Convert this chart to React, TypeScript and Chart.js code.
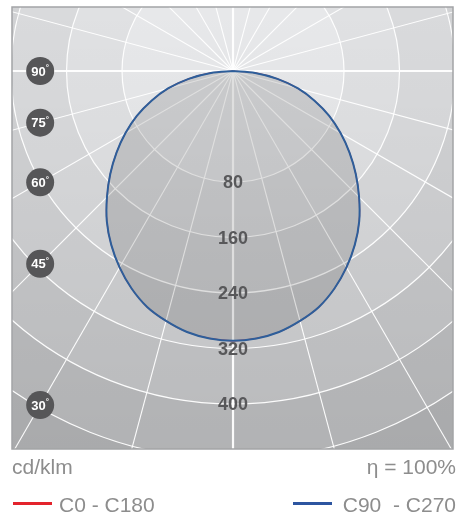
import { useEffect, useRef } from 'react';
import { Chart, registerables } from 'chart.js';

Chart.register(...registerables);

// gamma angles (degrees from nadir) and intensities (display units)
const gammaDeg = [0, 5, 10, 15, 20, 25, 30, 35, 40, 45, 50, 55, 60, 65, 70, 75, 80, 85, 90];
const c90Intensity = [389, 387, 382, 373, 362, 346, 327, 306, 283, 257, 231, 205, 179, 153, 125, 97, 65, 32, 0];
const c0Intensity = [389, 387, 382, 373, 362, 346, 327, 306, 283, 257, 231, 205, 179, 153, 125, 97, 65, 32, 0];

// grid rings (display units) and their tick labels (cd/klm)
const ringRadii = [160, 240, 320, 400, 480, 560];
const ringLabels = ['80', '160', '240', '320', '400'];
const bandColors = ['#e7e8ea', '#e0e1e3', '#d9dadc', '#d1d2d4', '#c8c9cb', '#bfc0c2', '#b6b7b9'];

// spokes every 15 degrees
const spokeAngles = [0, 15, 30, 45, 60, 75, 90, 105, 120, 135, 150, 165, 180, 195, 210, 225, 240, 255, 270, 285, 300, 315, 330, 345];
const angleLabelDeg = [90, 75, 60, 45, 30];
const angleLabels = ['90', '75', '60', '45', '30'];
const angleLabelX = -278;

const X_MIN = -318.6;
const X_MAX = 317.1;
const Y_MIN = -544.9;
const Y_MAX = 92.25;

function toCurve(values: number[]) {
  const pts: { x: number; y: number }[] = [];
  for (let i = gammaDeg.length - 1; i >= 0; i--) {
    const t = (gammaDeg[i] * Math.PI) / 180;
    pts.push({ x: -values[i] * Math.sin(t), y: -values[i] * Math.cos(t) });
  }
  for (let i = 1; i < gammaDeg.length; i++) {
    const t = (gammaDeg[i] * Math.PI) / 180;
    pts.push({ x: values[i] * Math.sin(t), y: -values[i] * Math.cos(t) });
  }
  return pts;
}

const polarGrid = {
  id: 'polarGrid',
  beforeDatasetsDraw(chart: any) {
    const { ctx, chartArea: a, scales } = chart;
    const xs = scales.x;
    const ys = scales.y;
    const cx = xs.getPixelForValue(0);
    const cy = ys.getPixelForValue(0);
    const k = xs.getPixelForValue(1) - cx;
    ctx.save();
    ctx.beginPath();
    ctx.rect(a.left, a.top, a.right - a.left, a.bottom - a.top);
    ctx.clip();
    ctx.fillStyle = bandColors[bandColors.length - 1];
    ctx.fillRect(a.left, a.top, a.right - a.left, a.bottom - a.top);
    for (let i = ringRadii.length - 1; i >= 0; i--) {
      ctx.beginPath();
      ctx.arc(cx, cy, ringRadii[i] * k, 0, Math.PI * 2);
      ctx.fillStyle = bandColors[i];
      ctx.fill();
    }
    const g = ctx.createLinearGradient(0, a.top, 0, a.bottom);
    g.addColorStop(0, 'rgba(0,0,0,0)');
    g.addColorStop(1, 'rgba(0,0,0,0.07)');
    ctx.fillStyle = g;
    ctx.fillRect(a.left, a.top, a.right - a.left, a.bottom - a.top);

    ctx.strokeStyle = 'rgba(255,255,255,0.95)';
    ctx.lineWidth = 1.2;
    ringRadii.forEach((r) => {
      ctx.beginPath();
      ctx.arc(cx, cy, r * k, 0, Math.PI * 2);
      ctx.stroke();
    });
    const L = 2000;
    spokeAngles.forEach((deg) => {
      const t = (deg * Math.PI) / 180;
      ctx.lineWidth = deg % 90 === 0 ? 2.2 : 1.1;
      ctx.beginPath();
      ctx.moveTo(cx, cy);
      ctx.lineTo(cx + L * Math.sin(t), cy + L * Math.cos(t));
      ctx.stroke();
    });

    // fill inside the C90 curve, using the library's own line path
    const meta = chart.getDatasetMeta(0);
    const line = meta.dataset;
    if (line) {
      if (typeof line.updateControlPoints === 'function') line.updateControlPoints(a, 'x');
      ctx.beginPath();
      line.path(ctx);
      ctx.closePath();
      ctx.fillStyle = 'rgba(0,0,0,0.12)';
      ctx.fill();
    }
    ctx.restore();
  },
  afterDatasetsDraw(chart: any) {
    const { ctx, chartArea: a, scales } = chart;
    const xs = scales.x;
    const ys = scales.y;
    const cx = xs.getPixelForValue(0);
    ctx.save();
    ctx.textAlign = 'center';
    ctx.textBaseline = 'middle';
    ctx.fillStyle = '#58585a';
    ctx.font = 'bold 18px "Liberation Sans", Arial, sans-serif';
    ringLabels.forEach((lab, i) => {
      const py = ys.getPixelForValue(-ringRadii[i]);
      ctx.fillText(lab, cx, py + 1.5);
    });

    angleLabelDeg.forEach((deg, i) => {
      const t = (deg * Math.PI) / 180;
      const yv = (angleLabelX * Math.cos(t)) / Math.sin(t);
      const px = xs.getPixelForValue(angleLabelX);
      const py = ys.getPixelForValue(yv);
      ctx.beginPath();
      ctx.arc(px, py, 14, 0, Math.PI * 2);
      ctx.fillStyle = '#565658';
      ctx.fill();
      ctx.fillStyle = '#ffffff';
      ctx.font = 'bold 13px "Liberation Sans", Arial, sans-serif';
      const w1 = ctx.measureText(angleLabels[i]).width;
      ctx.font = 'bold 8px "Liberation Sans", Arial, sans-serif';
      const w2 = ctx.measureText('°').width;
      const sx = px - (w1 + w2) / 2;
      ctx.textAlign = 'left';
      ctx.font = 'bold 13px "Liberation Sans", Arial, sans-serif';
      ctx.fillText(angleLabels[i], sx, py + 1);
      ctx.font = 'bold 8px "Liberation Sans", Arial, sans-serif';
      ctx.fillText('°', sx + w1, py - 3);
      ctx.textAlign = 'center';
    });

    ctx.strokeStyle = '#a3a4a6';
    ctx.lineWidth = 1.5;
    ctx.strokeRect(a.left, a.top, a.right - a.left, a.bottom - a.top);
    ctx.restore();
  },
};

export default function App() {
  const ref = useRef<HTMLCanvasElement>(null);
  useEffect(() => {
    if (!ref.current) return;
    const chart = new Chart(ref.current, {
      type: 'scatter',
      data: {
        datasets: [
          {
            label: 'C90 - C270',
            data: toCurve(c90Intensity),
            showLine: true,
            borderColor: '#2d5f9b',
            borderWidth: 2,
            pointRadius: 0,
            fill: false,
            tension: 0.3,
          },
          {
            label: 'C0 - C180',
            data: toCurve(c0Intensity),
            showLine: true,
            borderColor: '#e3232c',
            borderWidth: 1.2,
            pointRadius: 0,
            fill: false,
            tension: 0.3,
          },
        ],
      },
      options: {
        animation: false,
        responsive: false,
        events: [],
        layout: { padding: { left: 12, top: 7, right: 7, bottom: 66 } },
        plugins: { legend: { display: false }, tooltip: { enabled: false } },
        scales: {
          x: { type: 'linear', min: X_MIN, max: X_MAX, display: false },
          y: { type: 'linear', min: Y_MIN, max: Y_MAX, display: false },
        },
      },
      plugins: [polarGrid],
    } as any);
    return () => chart.destroy();
  }, []);

  const textStyle: any = {
    position: 'absolute',
    fontFamily: '"Liberation Sans", Arial, sans-serif',
    fontSize: 21,
    lineHeight: '21px',
    color: '#8d8d8d',
    whiteSpace: 'pre',
  };

  return (
    <div style={{ position: 'absolute', left: 0, top: 0, width: 460, height: 515 }}>
      <canvas ref={ref} width={460} height={515} style={{ position: 'absolute', left: 0, top: 0, width: 460, height: 515 }} />
      <div style={{ ...textStyle, left: 12, top: 456 }}>cd/klm</div>
      <div style={{ ...textStyle, right: 4, top: 456 }}>η = 100%</div>
      <div style={{ position: 'absolute', left: 13, top: 502, width: 39, height: 3, background: '#e3232c' }} />
      <div style={{ ...textStyle, left: 59, top: 494 }}>C0 - C180</div>
      <div style={{ position: 'absolute', left: 293, top: 502, width: 39, height: 3, background: '#2d55a0' }} />
      <div style={{ ...textStyle, right: 4, top: 494 }}>C90  - C270</div>
    </div>
  );
}
